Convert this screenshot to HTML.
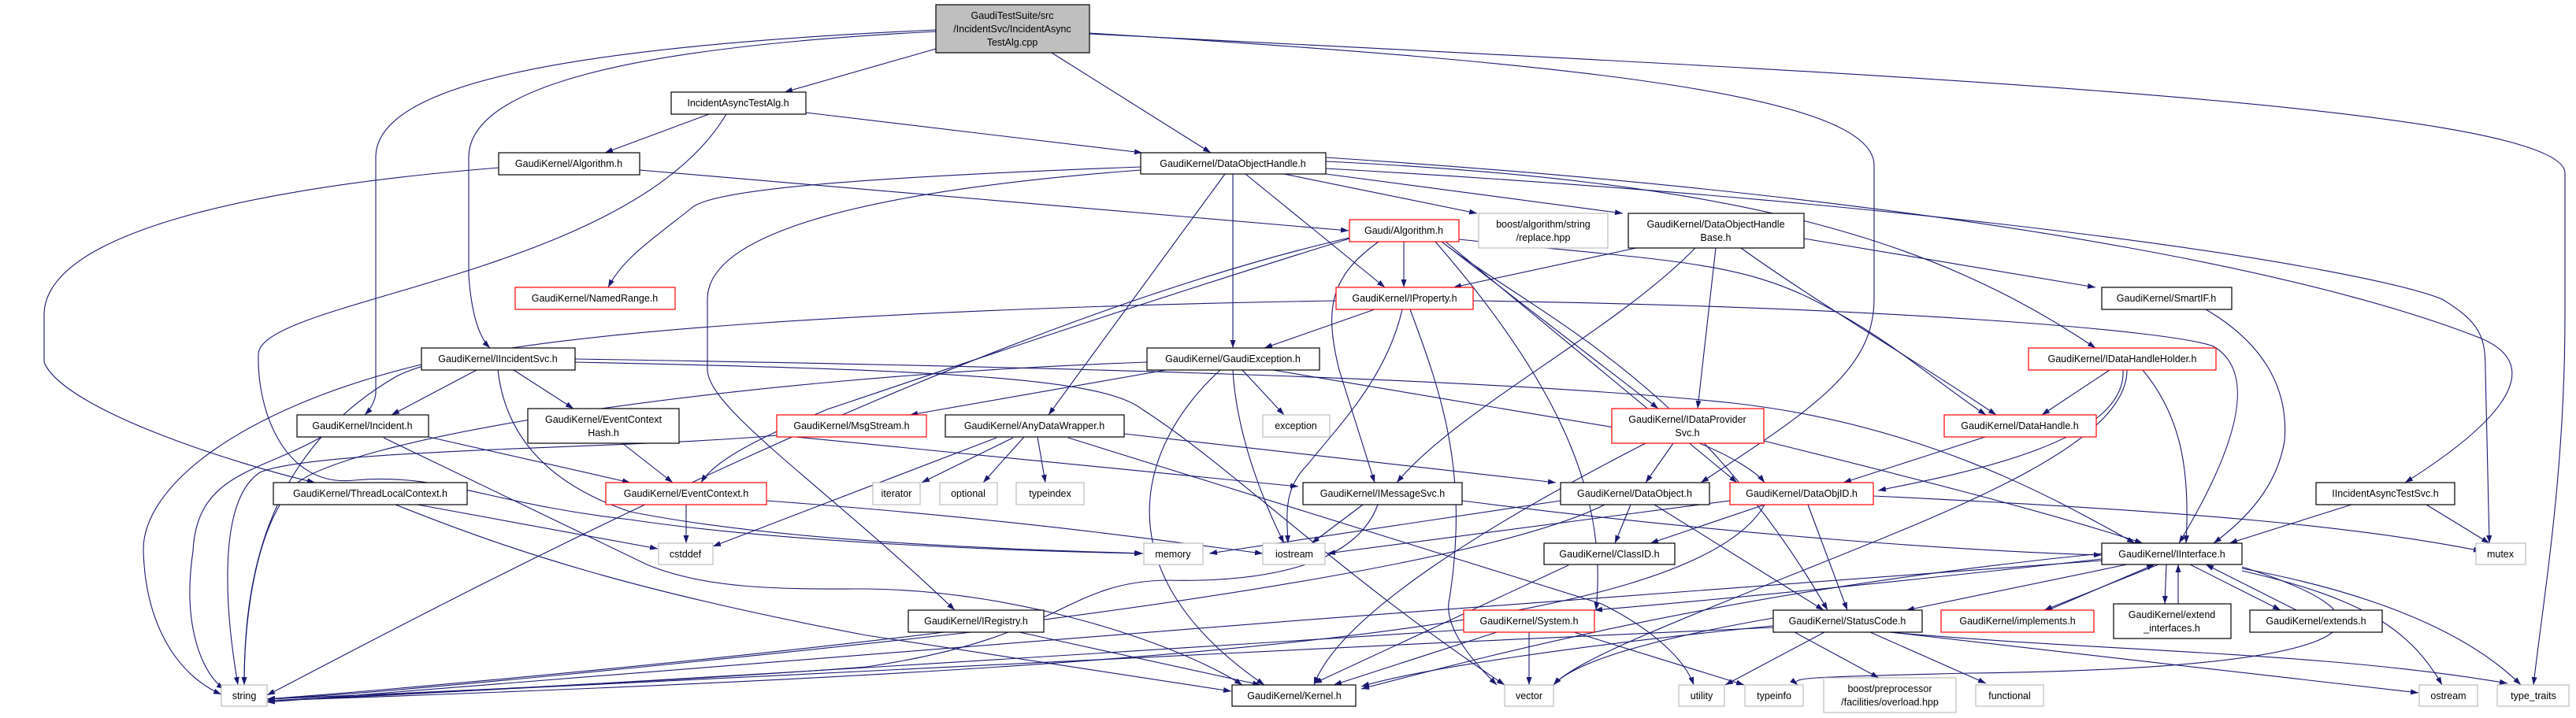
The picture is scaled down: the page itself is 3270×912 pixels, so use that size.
<!DOCTYPE html>
<html><head><meta charset="utf-8"><style>
html,body{margin:0;padding:0;background:#fff;}
svg{display:block;}
text{font-family:"Liberation Sans",sans-serif;font-size:12.5px;fill:#000;}
.e{fill:none;stroke:#191970;stroke-width:1.1;marker-end:url(#a);}
.n{fill:#fff;stroke:#000;stroke-width:1.2;}
.r{fill:#fff;stroke:#ff0000;stroke-width:1.2;}
.g{fill:#fff;stroke:#bfbfbf;stroke-width:1.2;}
</style></head><body>
<svg width="3270" height="912" viewBox="0 0 3270 912" xmlns="http://www.w3.org/2000/svg">
<defs><marker id="a" markerUnits="userSpaceOnUse" markerWidth="10" markerHeight="8" refX="10" refY="3.5" orient="auto"><path d="M0,0 L10,3.5 L0,7 z" fill="#191970"/></marker></defs>
<g>
<path class="e" d="M1188,62 L996,117"/>
<path class="e" d="M1335,67 L1537,194"/>
<path class="e" d="M1188,40 C800,60 595,110 595,200 L595,350 Q600,420 622,442"/>
<path class="e" d="M1188,38 C700,60 477,110 477,200 L477,500 Q475,515 463,527"/>
<path class="e" d="M1383,42 C2000,80 2379,120 2379,210 L2379,380 C2379,470 2300,520 2159,613"/>
<path class="e" d="M1383,43 C2300,90 3256,130 3256,220 L3256,400 C3256,600 3230,750 3216,870"/>
<path class="e" d="M1683,200 C2600,260 3000,370 3150,430 C3220,460 3200,520 3053,613"/>
<path class="e" d="M1683,214 C2500,260 3000,340 3100,380 C3150,410 3155,430 3155,470 L3160,690"/>
<path class="e" d="M900,145 L768,194"/>
<path class="e" d="M1023,143 L1450,194"/>
<path class="e" d="M922,145 C800,350 330,380 328,450 C326,520 360,620 450,610 C560,600 620,640 800,660 C1000,690 1300,700 1450,703"/>
<path class="e" d="M812,216 L1712,293"/>
<path class="e" d="M633,213 C300,240 56,300 56,400 L56,460 C80,520 300,590 400,613"/>
<path class="e" d="M1581,221 L1758,365"/>
<path class="e" d="M1565,221 L1565,442"/>
<path class="e" d="M1555,221 L1331,527"/>
<path class="e" d="M1448,212 C1100,225 900,240 877,265 C820,310 790,330 772,365"/>
<path class="e" d="M1448,216 C1000,250 898,320 898,380 L898,470 C900,520 1050,620 1212,775"/>
<path class="e" d="M1630,221 L1875,271"/>
<path class="e" d="M1683,221 L2060,271"/>
<path class="e" d="M1683,205 C2200,230 2450,300 2660,442"/>
<path class="e" d="M1782,307 L1782,365"/>
<path class="e" d="M1713,302 C1200,420 500,800 339,883"/>
<path class="e" d="M1713,303 C1400,400 1200,470 1050,520 C980,550 910,580 890,613"/>
<path class="e" d="M1750,307 C1690,350 1680,390 1700,470 L1745,613"/>
<path class="e" d="M1852,304 C2100,330 2200,330 2300,380 C2400,430 2450,480 2521,527"/>
<path class="e" d="M1830,307 L2105,519"/>
<path class="e" d="M1835,307 L2205,613"/>
<path class="e" d="M1830,307 C1950,400 2150,480 2320,775"/>
<path class="e" d="M1822,307 C1990,500 2040,640 2026,775"/>
<path class="e" d="M1745,393 L1605,442"/>
<path class="e" d="M1696,382 C1200,390 600,420 500,480 C330,580 310,750 310,870"/>
<path class="e" d="M1780,393 C1760,480 1700,540 1660,590 C1630,620 1633,650 1635,690"/>
<path class="e" d="M1790,393 C1830,500 1865,600 1840,760 C1830,800 1880,850 1900,870"/>
<path class="e" d="M1870,382 C2400,390 2760,420 2810,440 C2860,470 2850,550 2766,690"/>
<path class="e" d="M2077,315 L1845,365"/>
<path class="e" d="M2152,315 C2050,420 1850,520 1773,613"/>
<path class="e" d="M2178,315 L2155,519"/>
<path class="e" d="M2210,315 C2300,380 2450,470 2534,527"/>
<path class="e" d="M2290,303 L2660,365"/>
<path class="e" d="M2800,393 C2880,440 2905,500 2900,560 C2890,620 2850,660 2810,690"/>
<path class="e" d="M605,470 L497,527"/>
<path class="e" d="M652,470 L728,519"/>
<path class="e" d="M535,463 C300,520 180,620 182,700 C185,800 230,860 281,882"/>
<path class="e" d="M632,470 C640,540 680,610 800,650 C1000,690 1300,698 1451,703"/>
<path class="e" d="M730,460 C1200,470 1400,480 1450,520 C1560,590 1700,730 1910,870"/>
<path class="e" d="M730,456 C1300,465 1900,480 2200,512 C2450,540 2620,640 2710,690"/>
<path class="e" d="M544,555 L800,613"/>
<path class="e" d="M408,555 C330,600 250,600 245,700 C230,800 260,860 285,875"/>
<path class="e" d="M487,556 L821,717 C900,750 1000,748 1100,748 C1300,750 1500,820 1577,870"/>
<path class="e" d="M790,563 L854,613"/>
<path class="e" d="M986,553 C800,570 400,570 330,600 C270,640 290,800 302,870"/>
<path class="e" d="M1010,555 L1648,618"/>
<path class="e" d="M1286,556 L1170,613"/>
<path class="e" d="M1300,555 L1248,613"/>
<path class="e" d="M1317,555 L1327,613"/>
<path class="e" d="M1427,551 L1975,613"/>
<path class="e" d="M1265,556 L905,694"/>
<path class="e" d="M1356,556 L2033,767 C2100,800 2140,840 2150,870"/>
<path class="e" d="M1480,470 L1155,527"/>
<path class="e" d="M1577,470 L1630,527"/>
<path class="e" d="M1565,470 C1570,560 1610,650 1630,690"/>
<path class="e" d="M1549,470 C1440,570 1400,730 1605,870"/>
<path class="e" d="M1456,460 C900,480 420,560 370,620 C320,680 310,800 310,870"/>
<path class="e" d="M1616,470 L2150,560 C2200,580 2230,600 2240,613"/>
<path class="e" d="M2678,470 L2592,527"/>
<path class="e" d="M2695,470 C2700,560 2500,600 2384,623"/>
<path class="e" d="M2720,470 C2770,530 2780,600 2775,690"/>
<path class="e" d="M2700,470 C2700,560 2500,640 2300,720 C2100,800 2000,840 1972,870"/>
<path class="e" d="M2520,555 L2340,613"/>
<path class="e" d="M2124,563 L2089,613"/>
<path class="e" d="M2089,563 C1900,660 1700,780 1668,870"/>
<path class="e" d="M2239,560 C2400,600 2600,650 2720,690"/>
<path class="e" d="M2070,641 L2050,690"/>
<path class="e" d="M1981,636 L1535,703"/>
<path class="e" d="M2037,641 C1800,760 700,860 339,888"/>
<path class="e" d="M2100,641 L2315,775"/>
<path class="e" d="M2240,641 L2095,690"/>
<path class="e" d="M2295,641 L2345,775"/>
<path class="e" d="M2196,636 L1685,703"/>
<path class="e" d="M2378,630 C2800,650 3000,670 3150,700"/>
<path class="e" d="M2240,641 C2150,800 1500,850 339,890"/>
<path class="e" d="M1730,641 L1665,690"/>
<path class="e" d="M1856,636 C2200,680 2500,700 2668,705"/>
<path class="e" d="M1749,641 C1720,720 1600,740 1480,737 C1350,740 1350,810 1100,847 C800,870 400,885 339,888"/>
<path class="e" d="M530,641 L835,697"/>
<path class="e" d="M502,641 C650,700 800,750 1100,807 L1563,878"/>
<path class="e" d="M871,641 L871,690"/>
<path class="e" d="M973,636 C1300,660 1500,690 1603,703"/>
<path class="e" d="M1991,718 L1668,868"/>
<path class="e" d="M1233,803 C900,840 500,880 339,888"/>
<path class="e" d="M1294,803 L1600,870"/>
<path class="e" d="M1900,803 L1693,870"/>
<path class="e" d="M1941,803 L1941,870"/>
<path class="e" d="M1998,803 L2214,870"/>
<path class="e" d="M1858,800 C1400,830 600,880 339,890"/>
<path class="e" d="M2250,795 C2000,820 1800,850 1728,872"/>
<path class="e" d="M2316,803 L2190,870"/>
<path class="e" d="M2278,803 L2385,861"/>
<path class="e" d="M2374,803 L2521,868"/>
<path class="e" d="M2400,803 L3070,880"/>
<path class="e" d="M2398,803 C2678,828 2951,828 3183,868"/>
<path class="e" d="M2251,797 C1500,830 600,880 339,890"/>
<path class="e" d="M2251,785 C2050,820 1990,850 1972,870"/>
<path class="e" d="M2700,717 L2420,775"/>
<path class="e" d="M2740,717 L2595,775"/>
<path class="e" d="M2600,775 L2735,717"/>
<path class="e" d="M2750,717 L2748,767"/>
<path class="e" d="M2765,767 L2765,717"/>
<path class="e" d="M2780,717 L2895,775"/>
<path class="e" d="M2915,775 L2800,717"/>
<path class="e" d="M2668,703 C2200,750 1900,830 1728,875"/>
<path class="e" d="M2668,710 C2400,740 2200,760 2024,775"/>
<path class="e" d="M2668,712 C2000,760 700,860 339,892"/>
<path class="e" d="M2846,720 C3100,800 2950,850 2500,855 C2300,860 2270,860 2282,870"/>
<path class="e" d="M2846,725 C3000,760 3060,800 3100,870"/>
<path class="e" d="M2846,722 C3050,760 3150,820 3200,870"/>
<path class="e" d="M2985,641 L2830,690"/>
<path class="e" d="M3080,641 L3160,690"/>
</g>
<g text-anchor="middle">
<rect x="1188" y="6" width="195" height="61" fill="#bfbfbf" stroke="#000" stroke-width="1.2"/>
<text x="1285" y="24">GaudiTestSuite/src</text><text x="1285" y="41">/IncidentSvc/IncidentAsync</text><text x="1285" y="58">TestAlg.cpp</text>

<rect class="n" x="852" y="117" width="171" height="28"/><text x="937" y="135">IncidentAsyncTestAlg.h</text>
<rect class="n" x="633" y="194" width="179" height="28"/><text x="722" y="212">GaudiKernel/Algorithm.h</text>
<rect class="n" x="1448" y="194" width="235" height="27"/><text x="1565" y="212">GaudiKernel/DataObjectHandle.h</text>
<rect class="r" x="654" y="365" width="203" height="28"/><text x="755" y="383">GaudiKernel/NamedRange.h</text>
<rect class="r" x="1713" y="279" width="139" height="28"/><text x="1782" y="297">Gaudi/Algorithm.h</text>
<rect class="g" x="1877" y="271" width="164" height="44"/><text x="1959" y="289">boost/algorithm/string</text><text x="1959" y="306">/replace.hpp</text>
<rect class="n" x="2067" y="271" width="223" height="44"/><text x="2178" y="289">GaudiKernel/DataObjectHandle</text><text x="2178" y="306">Base.h</text>
<rect class="r" x="1696" y="365" width="174" height="28"/><text x="1783" y="383">GaudiKernel/IProperty.h</text>
<rect class="n" x="2668" y="365" width="165" height="28"/><text x="2750" y="383">GaudiKernel/SmartIF.h</text>
<rect class="n" x="535" y="442" width="195" height="28"/><text x="632" y="460">GaudiKernel/IIncidentSvc.h</text>
<rect class="n" x="1456" y="442" width="219" height="28"/><text x="1565" y="460">GaudiKernel/GaudiException.h</text>
<rect class="r" x="2575" y="442" width="238" height="28"/><text x="2694" y="460">GaudiKernel/IDataHandleHolder.h</text>
<rect class="n" x="377" y="527" width="167" height="28"/><text x="460" y="545">GaudiKernel/Incident.h</text>
<rect class="n" x="670" y="519" width="192" height="44"/><text x="766" y="537">GaudiKernel/EventContext</text><text x="766" y="554">Hash.h</text>
<rect class="r" x="986" y="527" width="190" height="28"/><text x="1081" y="545">GaudiKernel/MsgStream.h</text>
<rect class="n" x="1200" y="527" width="227" height="28"/><text x="1313" y="545">GaudiKernel/AnyDataWrapper.h</text>
<rect class="g" x="1603" y="527" width="85" height="28"/><text x="1645" y="545">exception</text>
<rect class="r" x="2046" y="519" width="193" height="44"/><text x="2142" y="537">GaudiKernel/IDataProvider</text><text x="2142" y="554">Svc.h</text>
<rect class="r" x="2468" y="527" width="193" height="28"/><text x="2564" y="545">GaudiKernel/DataHandle.h</text>
<rect class="n" x="347" y="613" width="246" height="28"/><text x="470" y="631">GaudiKernel/ThreadLocalContext.h</text>
<rect class="r" x="769" y="613" width="204" height="28"/><text x="871" y="631">GaudiKernel/EventContext.h</text>
<rect class="g" x="1108" y="613" width="60" height="28"/><text x="1138" y="631">iterator</text>
<rect class="g" x="1193" y="613" width="73" height="28"/><text x="1229" y="631">optional</text>
<rect class="g" x="1290" y="613" width="86" height="28"/><text x="1333" y="631">typeindex</text>
<rect class="n" x="1654" y="613" width="202" height="28"/><text x="1755" y="631">GaudiKernel/IMessageSvc.h</text>
<rect class="n" x="1981" y="613" width="189" height="28"/><text x="2075" y="631">GaudiKernel/DataObject.h</text>
<rect class="r" x="2196" y="613" width="182" height="28"/><text x="2287" y="631">GaudiKernel/DataObjID.h</text>
<rect class="n" x="2940" y="613" width="176" height="28"/><text x="3028" y="631">IIncidentAsyncTestSvc.h</text>
<rect class="g" x="836" y="690" width="69" height="27"/><text x="870" y="708">cstddef</text>
<rect class="g" x="1452" y="690" width="75" height="27"/><text x="1489" y="708">memory</text>
<rect class="g" x="1603" y="690" width="79" height="27"/><text x="1643" y="708">iostream</text>
<rect class="n" x="1960" y="690" width="166" height="27"/><text x="2043" y="708">GaudiKernel/ClassID.h</text>
<rect class="n" x="2668" y="690" width="178" height="27"/><text x="2757" y="708">GaudiKernel/IInterface.h</text>
<rect class="g" x="3143" y="690" width="63" height="27"/><text x="3174" y="708">mutex</text>
<rect class="n" x="1153" y="775" width="172" height="28"/><text x="1239" y="793">GaudiKernel/IRegistry.h</text>
<rect class="r" x="1858" y="775" width="166" height="28"/><text x="1941" y="793">GaudiKernel/System.h</text>
<rect class="n" x="2251" y="775" width="189" height="28"/><text x="2345" y="793">GaudiKernel/StatusCode.h</text>
<rect class="r" x="2464" y="775" width="194" height="28"/><text x="2561" y="793">GaudiKernel/implements.h</text>
<rect class="n" x="2683" y="767" width="149" height="44"/><text x="2757" y="785">GaudiKernel/extend</text><text x="2757" y="802">_interfaces.h</text>
<rect class="n" x="2856" y="775" width="168" height="28"/><text x="2940" y="793">GaudiKernel/extends.h</text>
<rect class="g" x="281" y="870" width="58" height="27"/><text x="310" y="888">string</text>
<rect class="n" x="1564" y="870" width="157" height="27"/><text x="1643" y="888">GaudiKernel/Kernel.h</text>
<rect class="g" x="1910" y="870" width="62" height="27"/><text x="1941" y="888">vector</text>
<rect class="g" x="2131" y="870" width="58" height="27"/><text x="2160" y="888">utility</text>
<rect class="g" x="2215" y="870" width="74" height="27"/><text x="2252" y="888">typeinfo</text>
<rect class="g" x="2315" y="861" width="168" height="44"/><text x="2399" y="879">boost/preprocessor</text><text x="2399" y="896">/facilities/overload.hpp</text>
<rect class="g" x="2508" y="870" width="86" height="27"/><text x="2551" y="888">functional</text>
<rect class="g" x="3071" y="870" width="74" height="27"/><text x="3108" y="888">ostream</text>
<rect class="g" x="3170" y="870" width="91" height="27"/><text x="3216" y="888">type_traits</text>
</g>
</svg>
</body></html>
